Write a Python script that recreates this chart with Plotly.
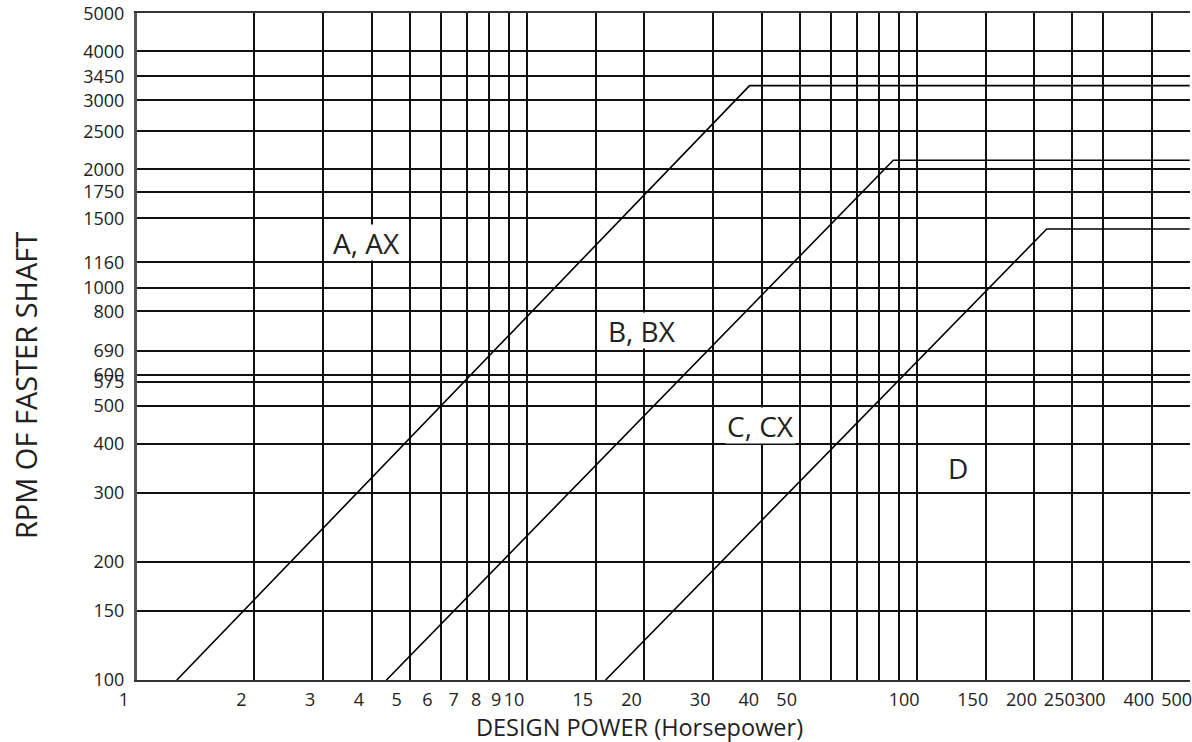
import math
import plotly.graph_objects as go

# ---- data ----
X_TICK_VALUES = [1, 2, 3, 4, 5, 6, 7, 8, 9, 10, 15, 20, 30, 40, 50, 60, 70, 80, 90,
                 100, 150, 200, 250, 300, 400, 500]
X_TICK_LABELS = ["1", "2", "3", "4", "5", "6", "7", "8", "9", "10", "15", "20", "30", "40", "50",
                 "", "", "", "", "100", "150", "200", "250", "300", "400", "500"]

Y_TICK_VALUES = [100, 150, 200, 300, 400, 500, 575, 600, 690, 870, 1000, 1160, 1500, 1750,
                 2000, 2500, 3000, 3450, 4000, 5000]
Y_TICK_LABELS = ["100", "150", "200", "300", "400", "500", "575", "600", "690", "800", "1000",
                 "1160", "1500", "1750", "2000", "2500", "3000", "3450", "4000", "5000"]

# belt-section limit lines: design power (hp) vs rpm
A_HP = [1.265, 37.2, 500]
A_RPM = [100, 3270, 3270]
B_HP = [4.36, 86.9, 500]
B_RPM = [100, 2110, 2110]
C_HP = [15.9, 215, 500]
C_RPM = [100, 1410, 1410]

SECTION_LABELS = ["A, AX", "B, BX", "C, CX", "D"]
LABEL_HP = [3.88, 19.7, 39.7, 127]
LABEL_RPM = [1300, 775, 444, 348]
LABEL_BOXED = [True, True, True, False]

FONT = "Open Sans, Noto Sans, DejaVu Sans, sans-serif"
TXT = "#222222"

W, H = 1192, 742
ML, MR, MT, MB = 137, 0, 11, 62
pw, ph = W - ML - MR, H - MT - MB

fig = go.Figure()
for hp, rpm, name in [(A_HP, A_RPM, "A, AX"), (B_HP, B_RPM, "B, BX"), (C_HP, C_RPM, "C, CX")]:
    fig.add_trace(go.Scatter(x=hp, y=rpm, mode="lines", name=name,
                             line=dict(color="black", width=1.6), hoverinfo="skip",
                             showlegend=False))

for lab, hx, ry, boxed in zip(SECTION_LABELS, LABEL_HP, LABEL_RPM, LABEL_BOXED):
    fig.add_annotation(x=math.log10(hx), y=math.log10(ry), xref="x", yref="y", text=lab,
                       showarrow=False,
                       bgcolor="white" if boxed else "rgba(0,0,0,0)",
                       borderpad=1, height=33,
                       xanchor="center", yanchor="middle",
                       font=dict(family=FONT, size=28, color=TXT))

# axis titles (placed by pixel position, converted to paper coords)
def px_to_paper(px, py):
    return (px - ML) / pw, (H - MB - py) / ph

tx, ty = px_to_paper(640, 727)
fig.add_annotation(x=tx, y=ty, text="DESIGN POWER (Horsepower)", showarrow=False,
                   xref="paper", yref="paper", xanchor="center", yanchor="middle",
                   font=dict(family=FONT, size=23.5, color=TXT))
tx, ty = px_to_paper(26, 385)
fig.add_annotation(x=tx, y=ty, text="RPM OF FASTER SHAFT", showarrow=False, textangle=-90,
                   xref="paper", yref="paper", xanchor="center", yanchor="middle",
                   font=dict(family=FONT, size=29, color=TXT))

fig.update_layout(
    width=W, height=H,
    margin=dict(l=ML, r=MR, t=MT, b=MB, pad=0),
    paper_bgcolor="white", plot_bgcolor="white",
    showlegend=False,
    xaxis=dict(type="log", range=[0, math.log10(500) + 0.0008],
               tickmode="array", tickvals=X_TICK_VALUES, ticktext=X_TICK_LABELS,
               showgrid=True, gridcolor="#111111", gridwidth=1.7,
               showline=True, linecolor="#333333", linewidth=2, mirror=True,
               ticks="", tickangle=0, ticklabelshift=-13, ticklabelstandoff=2,
               ticklabeloverflow="allow",
               tickfont=dict(family=FONT, size=18, color=TXT), zeroline=False),
    yaxis=dict(type="log", range=[2, math.log10(5000) + 0.0005],
               tickmode="array", tickvals=Y_TICK_VALUES, ticktext=Y_TICK_LABELS,
               showgrid=True, gridcolor="#111111", gridwidth=1.7,
               showline=True, linecolor="#555555", linewidth=3, mirror=False,
               ticks="", ticklabelstandoff=6, ticklabeloverflow="allow",
               tickfont=dict(family=FONT, size=18, color=TXT), zeroline=False),
)

fig.write_html("out.html", config={"displayModeBar": False},
               post_script="document.body.style.margin='0px';")
